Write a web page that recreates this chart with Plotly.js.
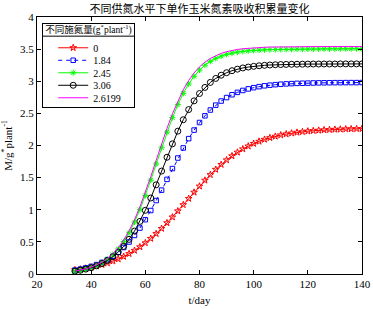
<!DOCTYPE html>
<html>
<head>
<meta charset="utf-8">
<script src="https://cdn.plot.ly/plotly-3.0.1.min.js"></script>
<style>html,body{margin:0;padding:0;background:#fff;}#chart{width:373px;height:309px;}</style>
</head>
<body>
<div id="chart"></div>
<script>
// day axis (sample days)
const days = [34,36,38,40,42,44,46,48,50,52,54,56,58,60,62,64,66,68,70,72,74,76,78,80,82,84,86,88,90,92,94,96,98,100,102,104,106,108,110,112,114,116,118,120,122,124,126,128,130,132,134,136,138,140];

const seriesNames = ['0', '1.84', '2.45', '3.06', '2.6199'];

const n0 = [0.064,0.075,0.089,0.105,0.123,0.145,0.170,0.200,0.233,0.272,0.316,0.366,0.421,0.484,0.552,0.627,0.708,0.795,0.885,0.980,1.077,1.174,1.271,1.366,1.458,1.545,1.627,1.703,1.774,1.837,1.894,1.945,1.990,2.030,2.064,2.094,2.120,2.142,2.162,2.178,2.192,2.204,2.214,2.223,2.230,2.236,2.242,2.246,2.250,2.253,2.256,2.258,2.260,2.261];

const n184 = [0.061,0.076,0.095,0.118,0.147,0.181,0.224,0.276,0.338,0.412,0.498,0.600,0.715,0.845,0.988,1.143,1.305,1.473,1.641,1.805,1.962,2.107,2.240,2.358,2.462,2.552,2.628,2.692,2.746,2.790,2.827,2.857,2.881,2.900,2.916,2.929,2.939,2.947,2.954,2.959,2.963,2.967,2.969,2.971,2.973,2.975,2.976,2.977,2.978,2.978,2.979,2.979,2.979,2.980];

const n245 = [0.043,0.057,0.076,0.100,0.133,0.175,0.230,0.301,0.391,0.504,0.642,0.808,1.002,1.221,1.460,1.712,1.964,2.208,2.434,2.636,2.811,2.958,3.077,3.174,3.250,3.310,3.356,3.391,3.418,3.438,3.453,3.465,3.474,3.480,3.485,3.489,3.492,3.494,3.496,3.497,3.498,3.499,3.500,3.501,3.502,3.503,3.503,3.504,3.504,3.505,3.505,3.505,3.505,3.505];

const n306 = [0.045,0.059,0.076,0.098,0.127,0.164,0.210,0.268,0.341,0.430,0.539,0.668,0.819,0.991,1.183,1.388,1.602,1.817,2.026,2.223,2.401,2.559,2.695,2.809,2.904,2.982,3.044,3.094,3.133,3.164,3.188,3.207,3.221,3.232,3.241,3.248,3.253,3.257,3.260,3.262,3.264,3.265,3.266,3.267,3.268,3.268,3.269,3.269,3.269,3.270,3.270,3.270,3.270,3.270];

const nFit = [0.045,0.060,0.080,0.106,0.140,0.184,0.242,0.316,0.410,0.529,0.672,0.844,1.045,1.270,1.515,1.770,2.025,2.269,2.494,2.695,2.867,3.011,3.129,3.224,3.298,3.355,3.400,3.434,3.460,3.480,3.495,3.506,3.514,3.521,3.526,3.529,3.532,3.534,3.536,3.537,3.538,3.538,3.539,3.539,3.539,3.540,3.540,3.540,3.540,3.540,3.540,3.540,3.540,3.540];

const xTicks = [20,40,60,80,100,120,140];
const yTicks = [0,0.5,1,1.5,2,2.5,3,3.5,4];

const serif = '"Liberation Serif", "Times New Roman", "Noto Sans CJK SC", serif';
const cjk = '"Liberation Serif", "Noto Sans CJK SC", serif';

const traces = [
  {x: days, y: n0, name: seriesNames[0], mode: 'lines+markers',
   line: {color: '#ff0000', width: 1},
   marker: {symbol: 'star-open', size: 5, color: '#ff0000', line: {width: 1, color: '#ff0000'}}},
  {x: days, y: n184, name: seriesNames[1], mode: 'lines+markers',
   line: {color: '#0000ff', width: 1, dash: '4px,4px'},
   marker: {symbol: 'square-open', size: 4.5, color: '#0000ff', line: {width: 1, color: '#0000ff'}}},
  {x: days, y: n245, name: seriesNames[2], mode: 'lines+markers',
   line: {color: '#00ff00', width: 1},
   marker: {symbol: 'asterisk-open', size: 5, color: '#00ff00', line: {width: 1, color: '#00ff00'}}},
  {x: days, y: n306, name: seriesNames[3], mode: 'lines+markers',
   line: {color: '#000000', width: 1},
   marker: {symbol: 'circle-open', size: 6, color: '#000000', line: {width: 1, color: '#000000'}}},
  {x: days, y: nFit, name: seriesNames[4], mode: 'lines',
   line: {color: '#ff00ff', width: 1}}
];

const layout = {
  width: 373, height: 309,
  margin: {l: 37, r: 11, t: 17, b: 35},
  paper_bgcolor: '#ffffff', plot_bgcolor: '#ffffff',
  font: {family: serif, size: 11, color: '#000'},
  title: {text: '不同供氮水平下单作玉米氮素吸收积累量变化', font: {family: cjk, size: 11, color: '#000'},
          x: 0.535, xanchor: 'center', y: 0.972, yanchor: 'middle'},
  showlegend: true,
  legend: {x: 0.016, xanchor: 'left', y: 0.976, yanchor: 'top',
           bgcolor: '#ffffff', bordercolor: '#000', borderwidth: 1,
           font: {family: serif, size: 10, color: '#000'},
           title: {text: '不同施氮量(g<sup>*</sup>plant<sup>-1</sup>)', font: {family: cjk, size: 9.5, color: '#000'}},
           itemwidth: 30, tracegroupgap: 0},
  xaxis: {range: [20, 140], tickvals: xTicks, ticks: 'inside', ticklen: 4, tickcolor: '#000',
          showline: true, linecolor: '#000', linewidth: 1, mirror: 'ticks', showgrid: false, zeroline: false,
          title: {text: 't/day', font: {family: serif, size: 11}, standoff: 7},
          tickfont: {family: serif, size: 11}},
  yaxis: {range: [0, 4], tickvals: yTicks, ticks: 'inside', ticklen: 4, tickcolor: '#000',
          showline: true, linecolor: '#000', linewidth: 1, mirror: 'ticks', showgrid: false, zeroline: false,
          title: {text: 'M/g<sup>*</sup>plant<sup>-1</sup>', font: {family: serif, size: 11}, standoff: 6},
          tickfont: {family: serif, size: 11}}
};

function parseT(el) {
  const t = el.getAttribute('transform') || '';
  const m = /translate\(\s*([-\d.e]+)[ ,]+([-\d.e]+)\s*\)/.exec(t);
  return m ? [parseFloat(m[1]), parseFloat(m[2])] : [0, 0];
}
function midY(el) { const r = el.getBoundingClientRect(); return r.top + r.height / 2; }

Plotly.newPlot('chart', traces, layout, {staticPlot: true, displayModeBar: false}).then(function (gd) {
  // compact the legend rows like the original figure
  const leg = gd.querySelector('g.legend');
  if (!leg) return;
  const bg = leg.querySelector('rect.bg');
  if (!bg) return;
  const lift = 4;
  const lp = parseT(leg);
  leg.setAttribute('transform', 'translate(' + lp[0] + ',' + (lp[1] - lift) + ')');
  const by = parseFloat(bg.getAttribute('y')) || 0;
  const bx = parseFloat(bg.getAttribute('x')) || 0;
  const w = parseFloat(bg.getAttribute('width'));
  const boxH = 84;
  bg.setAttribute('y', by + lift);
  bg.setAttribute('height', boxH);
  const clip = gd.querySelector('clipPath[id^="legend"] rect');
  if (clip) clip.setAttribute('height', boxH + lift + 4);
  const top = bg.getBoundingClientRect().top;

  const items = leg.querySelectorAll('g.traces');
  const targets = [24.5, 37, 49.5, 62, 74.5];
  items.forEach(function (it, i) {
    const p = parseT(it);
    const txt = it.querySelector('text.legendtext') || it;
    const dy = (top + targets[i]) - midY(txt);
    it.setAttribute('transform', 'translate(' + (p[0] + 10) + ',' + (p[1] + dy) + ')');
  });
  const ns = 'http://www.w3.org/2000/svg';
  const ln = document.createElementNS(ns, 'line');
  ln.setAttribute('x1', bx); ln.setAttribute('x2', bx + w);
  ln.setAttribute('y1', by + lift + 12.5); ln.setAttribute('y2', by + lift + 12.5);
  ln.setAttribute('stroke', '#000'); ln.setAttribute('stroke-width', 1);
  bg.parentNode.insertBefore(ln, bg.nextSibling);
});
</script>
</body>
</html>
